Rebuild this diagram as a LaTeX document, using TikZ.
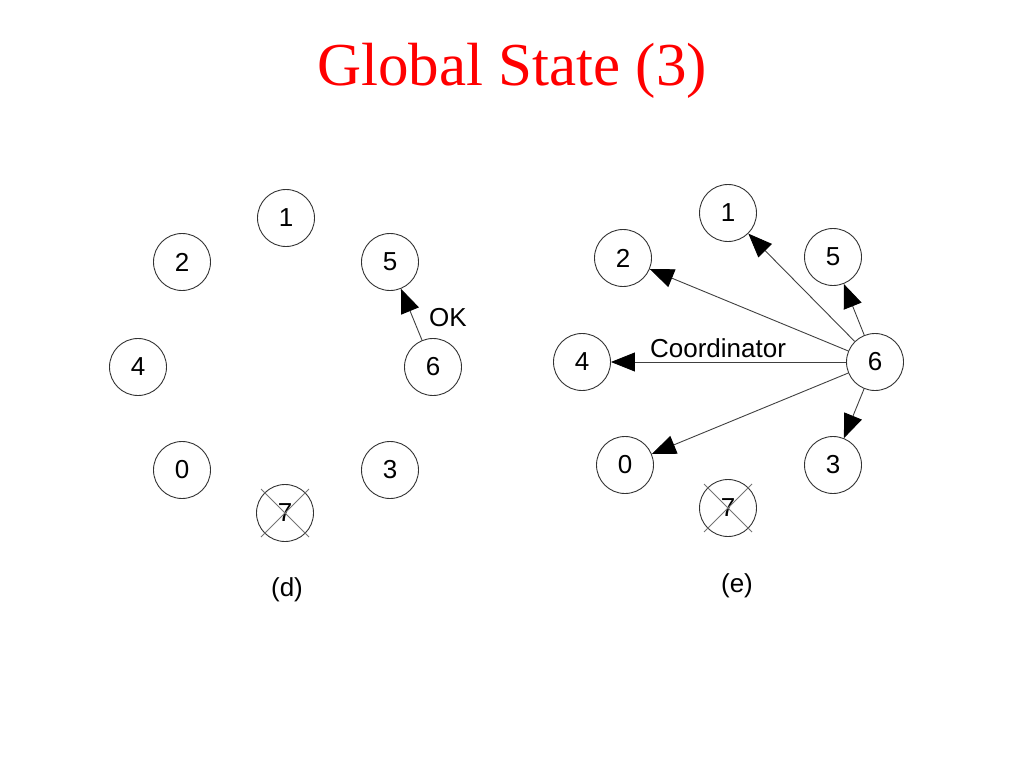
\documentclass[tikz,border=0pt]{standalone}
\usepackage{fontspec}
\setmainfont{Liberation Sans}
\newfontfamily\titlefont{Liberation Serif}
\usetikzlibrary{arrows.meta}
\definecolor{titlered}{RGB}{255,0,0}
\tikzset{
  proc/.style={circle,draw=black!80,line width=0.9pt,minimum size=57pt,inner sep=0pt,font=\fontsize{26}{30}\selectfont},
  lbl/.style={inner sep=0pt,font=\fontsize{26}{30}\selectfont},
  msg/.style={draw=black!75,line width=0.9pt,-{Triangle[length=24pt,width=19pt,color=black]}},
  crossline/.style={draw=black!55,line width=0.8pt}
}
\begin{document}
\begin{tikzpicture}[x=1pt,y=-1pt]
\useasboundingbox (0,0) rectangle (1024,768);
\node[anchor=base,text=titlered,inner sep=0pt,font=\titlefont\fontsize{61}{70}\selectfont] (title) at (512,85) {Global State (3)};
% (d)
\node[proc] (d1) at (286,218) {1};
\node[proc] (d2) at (182,262) {2};
\node[proc] (d5) at (390,262) {5};
\node[proc] (d4) at (138,367) {4};
\node[proc] (d6) at (433,367) {6};
\node[proc] (d0) at (182,470) {0};
\node[proc] (d3) at (390,470) {3};
\node[proc] (d7) at (285,513) {\raisebox{-2pt}{7}};
\coordinate (d7a) at (261,489);
\coordinate (d7b) at (309,537);
\coordinate (d7c) at (309,489);
\coordinate (d7d) at (261,537);
\draw[crossline] (d7a) -- (d7b);
\draw[crossline] (d7c) -- (d7d);
\draw[msg] (d6) -- (d5);
\node[lbl] (ok) at (448,318) {OK};
\node[lbl] (dcap) at (287,590) {(d)};
% (e)
\node[proc] (e1) at (728,213) {1};
\node[proc] (e2) at (623,258) {2};
\node[proc] (e5) at (833,257) {5};
\node[proc] (e4) at (582,362) {4};
\node[proc] (e6) at (875,362) {6};
\node[proc] (e0) at (625,465) {0};
\node[proc] (e3) at (833,465) {3};
\node[proc] (e7) at (728,508) {\raisebox{-2pt}{7}};
\coordinate (e7a) at (704,484);
\coordinate (e7b) at (752,532);
\coordinate (e7c) at (752,484);
\coordinate (e7d) at (704,532);
\draw[crossline] (e7a) -- (e7b);
\draw[crossline] (e7c) -- (e7d);
\draw[msg] (e6) -- (e1);
\draw[msg] (e6) -- (e2);
\draw[msg] (e6) -- (e5);
\draw[msg] (e6) -- (e4);
\draw[msg] (e6) -- (e0);
\draw[msg] (e6) -- (e3);
\node[lbl] (coord) at (718,348) {Coordinator};
\node[lbl] (ecap) at (737,586) {(e)};
\end{tikzpicture}
\end{document}
